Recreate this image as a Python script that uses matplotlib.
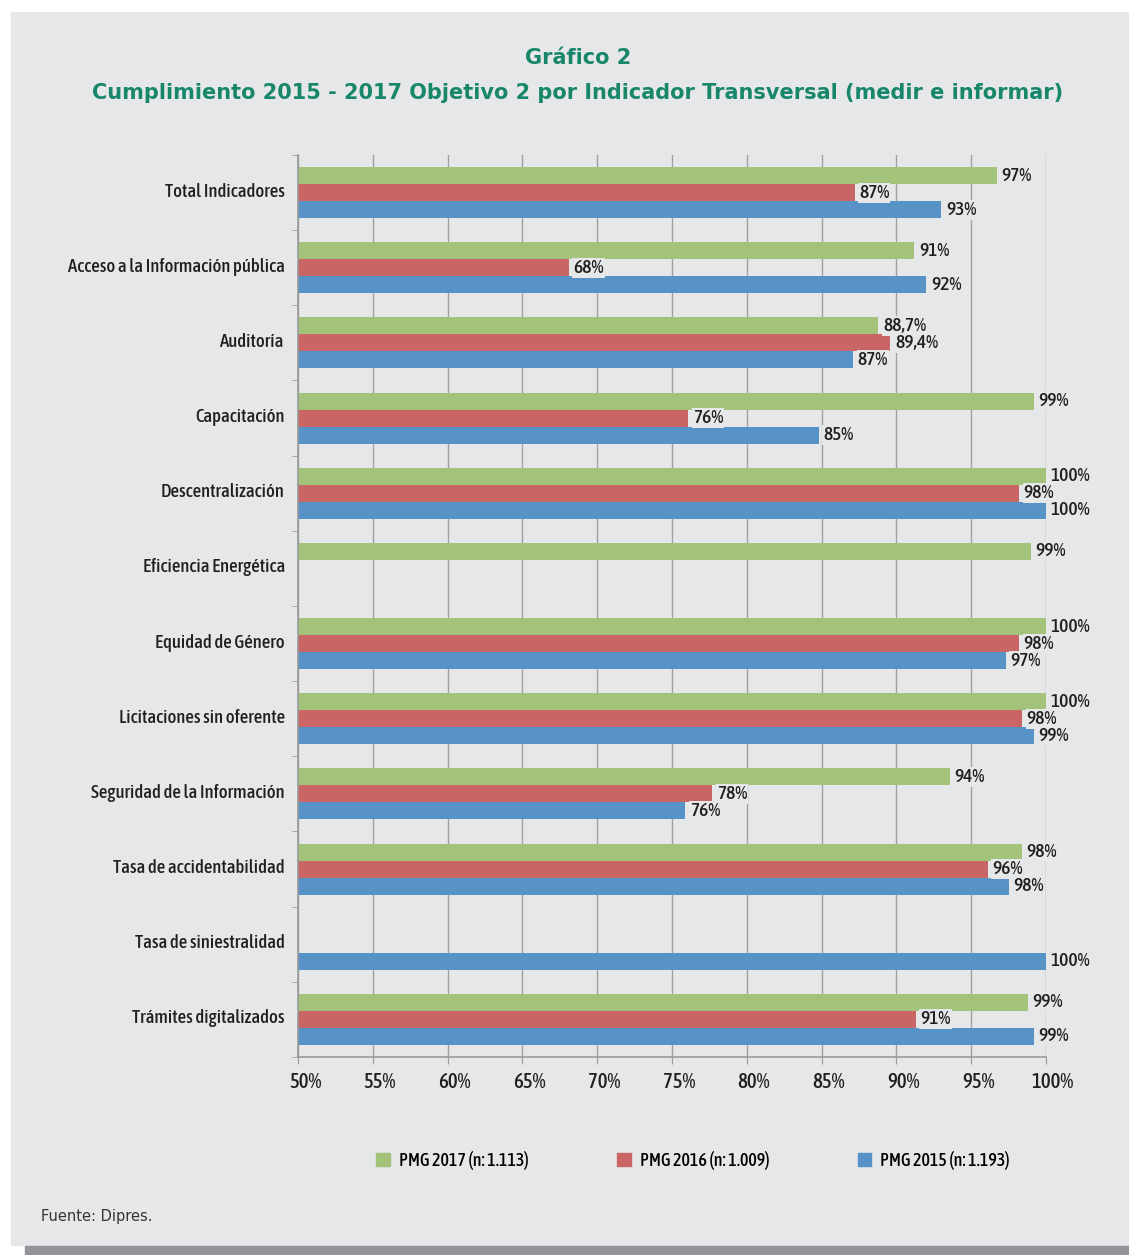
import numpy as np
import matplotlib.pyplot as plt
import matplotlib.transforms as mtransforms
from matplotlib.patches import Rectangle

# categories, top to bottom
categories = ['Total Indicadores', 'Acceso a la Información pública', 'Auditoría',
              'Capacitación', 'Descentralización', 'Eficiencia Energética',
              'Equidad de Género', 'Licitaciones sin oferente', 'Seguridad de la Información',
              'Tasa de accidentabilidad', 'Tasa de siniestralidad', 'Trámites digitalizados']

# bar lengths (None = no bar)
pmg2017 = [96.7, 91.2, 88.8, 99.2, 100, 99.0, 100, 100, 93.6, 98.4, None, 98.8]
pmg2016 = [87.2, 68.1, 89.6, 76.1, 98.2, None, 98.2, 98.4, 77.7, 96.1, None, 91.3]
pmg2015 = [93.0, 92.0, 87.1, 84.8, 100, None, 97.3, 99.2, 75.9, 97.5, 100, 99.2]

# printed data labels
lab2017 = ['97%', '91%', '88,7%', '99%', '100%', '99%', '100%', '100%', '94%', '98%', None, '99%']
lab2016 = ['87%', '68%', '89,4%', '76%', '98%', None, '98%', '98%', '78%', '96%', None, '91%']
lab2015 = ['93%', '92%', '87%', '85%', '100%', None, '97%', '99%', '76%', '98%', '100%', '99%']

series = [('PMG 2017 (n: 1.113)', pmg2017, lab2017, '#a3c37a'),
          ('PMG 2016 (n: 1.009)', pmg2016, lab2016, '#c96564'),
          ('PMG 2015 (n: 1.193)', pmg2015, lab2015, '#5893c7')]

xticks = [50, 55, 60, 65, 70, 75, 80, 85, 90, 95, 100]

narrow = ['Asap Condensed', 'Roboto', 'DejaVu Sans']
panel = '#e6e7e9'
dark = '#231f20'
teal = '#17866b'

fig = plt.figure(figsize=(11.29, 12.55), dpi=100)
fig.patch.set_facecolor('white')
fig.patches.append(Rectangle((11 / 1129, 10 / 1255), 1, 1 - 22 / 1255,
                             transform=fig.transFigure, color=panel, zorder=-10))
fig.patches.append(Rectangle((25 / 1129, 0), 1, 9 / 1255,
                             transform=fig.transFigure, color='#939598', zorder=-10))

ax = fig.add_axes([298 / 1129, 1 - 1057 / 1255, 748 / 1129, 902 / 1255])
ax.set_facecolor('none')

y = np.arange(len(categories))
h = 0.226
for i, (name, vals, labs, col) in enumerate(series):
    off = (i - 1) * h
    for k, (v, t) in enumerate(zip(vals, labs)):
        if v is None:
            continue
        ax.barh(y[k] + off, v - 50, left=50, height=h, color=col, zorder=2)
        ax.text(v + 0.3, y[k] + off, t, va='center', ha='left', fontsize=14,
                family=narrow, weight=500, color=dark, zorder=4,
                bbox=dict(boxstyle='square,pad=0.05', fc=panel, ec='none'))

ax.set_xlim(50, 100)
ax.set_ylim(len(categories) - 0.5, -0.5)
ax.set_xticks(xticks)
ax.set_xticklabels([f'{t}%' for t in xticks], family=narrow, weight=500, fontsize=15, color=dark)
ax.set_yticks(y)
ax.set_yticklabels(categories, family=narrow, weight=500, fontsize=13.5, color=dark)
ax.set_yticks(np.arange(len(categories) + 1) - 0.5, minor=True)
ax.tick_params(axis='y', which='major', length=0, pad=9.5)
ax.tick_params(axis='y', which='minor', length=4, color='#999999', direction='out')
ax.tick_params(axis='x', length=5, color='#999999', pad=6)
ax.grid(axis='x', color='#a0a0a0', lw=1, zorder=0)
for s in ['top', 'right']:
    ax.spines[s].set_visible(False)
for s in ['left', 'bottom']:
    ax.spines[s].set_color('#999999')
    ax.spines[s].set_linewidth(1.2)

# nudge tick labels like the original (after tick_params, which resets them)
shift_x = mtransforms.ScaledTranslation(7 / 100, 0, fig.dpi_scale_trans)
for lbl in ax.get_xticklabels():
    lbl.set_transform(lbl.get_transform() + shift_x)
shift_y = mtransforms.ScaledTranslation(0, 3 / 100, fig.dpi_scale_trans)
for lbl in ax.get_yticklabels():
    lbl.set_transform(lbl.get_transform() + shift_y)

handles = [Rectangle((0, 0), 1, 1, color=c) for _, _, _, c in series]
fig.legend(handles, [s[0] for s in series], loc='center', ncol=3,
           bbox_to_anchor=(0.614, 1 - 1160 / 1255), frameon=False,
           prop={'family': narrow, 'weight': 500, 'size': 13},
           handlelength=0.75, handleheight=0.75, columnspacing=4.9, handletextpad=0.5)

fig.text(578 / 1129, 1 - 58 / 1255, 'Gráfico 2', ha='center', va='center',
         fontsize=15, weight='bold', color=teal)
fig.text(578 / 1129, 1 - 93 / 1255,
         'Cumplimiento 2015 - 2017 Objetivo 2 por Indicador Transversal (medir e informar)',
         ha='center', va='center', fontsize=15, weight='bold', color=teal)
fig.text(41 / 1129, 1 - 1216 / 1255, 'Fuente: Dipres.', ha='left', va='center',
         fontsize=10.5, color='#333333')

fig.savefig('out.png', dpi=100)
